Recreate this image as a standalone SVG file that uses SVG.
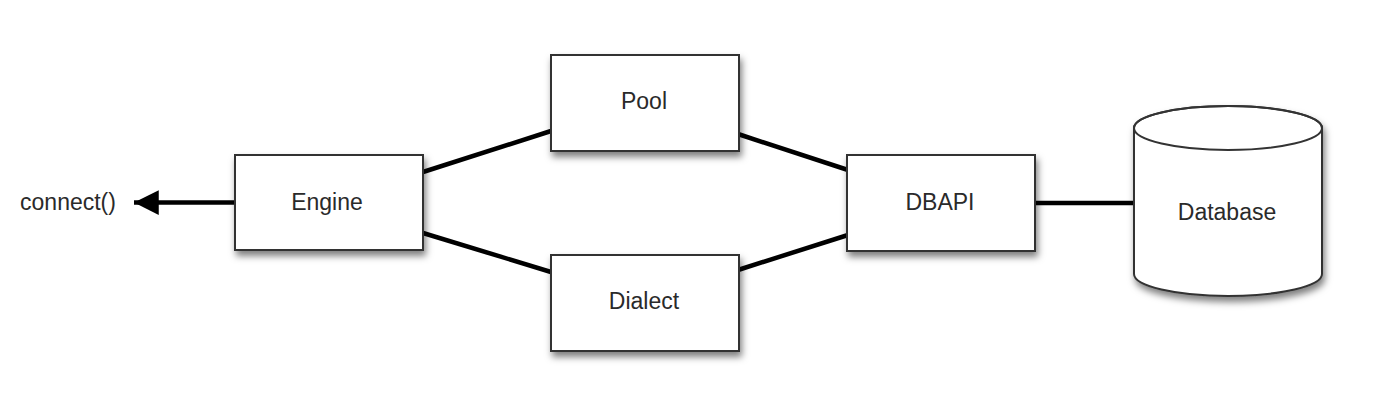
<svg xmlns="http://www.w3.org/2000/svg" width="1374" height="406" viewBox="0 0 1374 406">
  <style>
    .box { fill: #ffffff; stroke: #333333; stroke-width: 2; }
    .lbl { font-family: "Liberation Sans", Arial, sans-serif; font-size: 23px; fill: #2a2a2a; text-anchor: middle; dominant-baseline: central; }
    .conn { stroke: #000000; stroke-width: 4.5; fill: none; }
  </style>
  <defs>
    <filter id="sh" x="-20%" y="-20%" width="150%" height="160%">
      <feDropShadow dx="2" dy="5" stdDeviation="3.5" flood-color="#000" flood-opacity="0.5"/>
    </filter>
    <marker id="arr" viewBox="0 0 10 10" refX="10" refY="5" markerWidth="6.5" markerHeight="5.5" markerUnits="strokeWidth" orient="auto">
      <path d="M0,0 L10,5 L0,10 Z" fill="#000"/>
    </marker>
  </defs>
  <rect width="1374" height="406" fill="#ffffff"/>

  <g id="connectors">
    <line class="conn" x1="235" y1="202.5" x2="134" y2="202.5" marker-end="url(#arr)"/>
    <line class="conn" x1="423" y1="172" x2="551" y2="131"/>
    <line class="conn" x1="738" y1="134" x2="848" y2="170"/>
    <line class="conn" x1="423" y1="233" x2="551" y2="272"/>
    <line class="conn" x1="738" y1="270" x2="848" y2="235"/>
    <line class="conn" x1="1035" y1="203" x2="1134" y2="203"/>
  </g>

  <g id="connect-label">
    <text class="lbl" x="68" y="202">connect()</text>
  </g>

  <g id="engine">
    <rect class="box" x="235" y="155" width="188" height="95" filter="url(#sh)"/>
    <text class="lbl" x="327" y="202">Engine</text>
  </g>

  <g id="pool">
    <rect class="box" x="551" y="55" width="188" height="96" filter="url(#sh)"/>
    <text class="lbl" x="644" y="101">Pool</text>
  </g>

  <g id="dialect">
    <rect class="box" x="551" y="255" width="188" height="96" filter="url(#sh)"/>
    <text class="lbl" x="644" y="301">Dialect</text>
  </g>

  <g id="dbapi">
    <rect class="box" x="847" y="155" width="188" height="96" filter="url(#sh)"/>
    <text class="lbl" x="940" y="202">DBAPI</text>
  </g>

  <g id="database">
    <path class="box" d="M1134,128 L1134,274 A94,22 0 0 0 1322,274 L1322,128 A94,22 0 0 0 1134,128 Z" filter="url(#sh)"/>
    <ellipse cx="1228" cy="128" rx="94" ry="22" fill="none" stroke="#333333" stroke-width="2"/>
    <text class="lbl" x="1227" y="212">Database</text>
  </g>
</svg>
